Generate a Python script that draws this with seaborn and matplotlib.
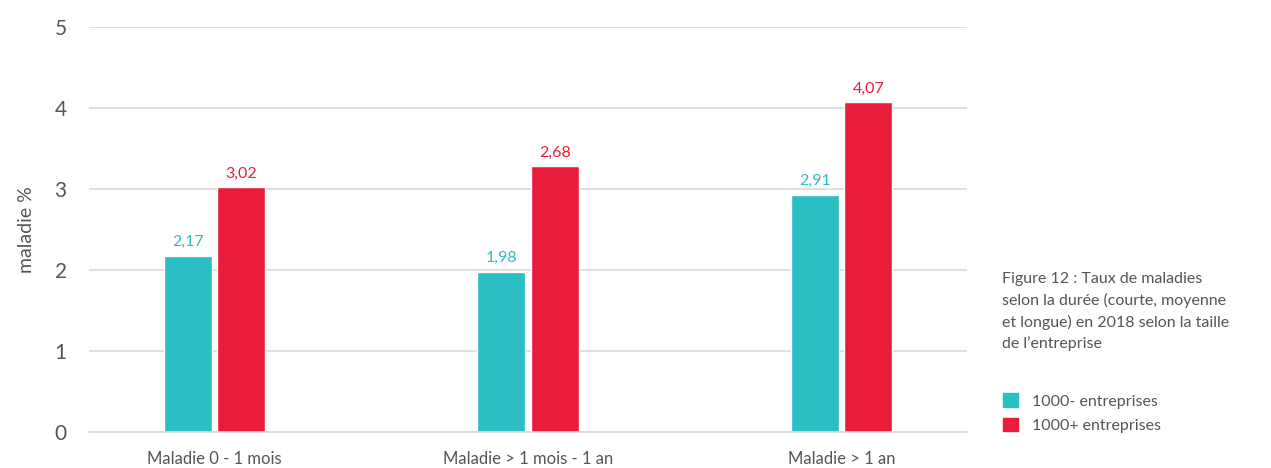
import numpy as np
import pandas as pd
import seaborn as sns
import matplotlib.pyplot as plt
from matplotlib.patches import Patch

#%% data
categories = ["Maladie 0 - 1 mois", "Maladie > 1 mois - 1 an", "Maladie > 1 an"]
groups = ["1000- entreprises", "1000+ entreprises"]
small_vals = [2.17, 1.98, 2.93]
big_vals = [3.02, 3.28, 4.07]
small_labels = ["2,17", "1,98", "2,91"]
big_labels = ["3,02", "2,68", "4,07"]

df = pd.DataFrame({
    "cat": categories * 2,
    "group": [groups[0]] * 3 + [groups[1]] * 3,
    "val": small_vals + big_vals,
})

#%% plot
sns.set_style("white")
plt.rcParams["font.family"] = ["Lato", "DejaVu Sans"]
teal = "#2abfc3"
red = "#e91c39"
grey = "#555555"

fig = plt.figure(figsize=(12.71, 4.68), dpi=100)
ax = fig.add_axes([0.070, 0.077, 0.691, 0.865])
sns.barplot(data=df, x="cat", y="val", hue="group", palette=[teal, red],
            width=0.34, gap=0.1, ax=ax, legend=False, saturation=1)

for cont, labs, col in zip(ax.containers, [small_labels, big_labels], [teal, red]):
    ax.bar_label(cont, labels=labs, padding=5, color=col, fontsize=11.5)

ax.set_ylim(0, 5)
ax.set_xlim(-0.4, 2.4)
ax.set_yticks(range(6))
ax.yaxis.grid(True, color="#d9d9d9", linewidth=1.2)
ax.set_axisbelow(True)
for s in ["top", "right", "left"]:
    ax.spines[s].set_visible(False)
ax.spines["bottom"].set_color("#d9d9d9")
ax.spines["bottom"].set_linewidth(1.2)
ax.tick_params(axis="y", length=0, pad=16, labelsize=15, labelcolor=grey)
ax.tick_params(axis="x", length=0, pad=14, labelsize=12, labelcolor=grey)
ax.set_xlabel("")
ax.set_ylabel("maladie %", fontsize=14, color=grey, labelpad=14)

fig.text(0.788, 0.25, "Figure 12 : Taux de maladies\nselon la durée (courte, moyenne\net longue) en 2018 selon la taille\nde l’entreprise",
         fontsize=11.5, color=grey, va="bottom", ha="left", linespacing=1.55)

handles = [Patch(color=teal), Patch(color=red)]
fig.legend(handles, groups, loc="upper left", bbox_to_anchor=(0.778, 0.19),
           frameon=False, fontsize=11.5, labelcolor=grey, handlelength=0.9,
           handleheight=0.9, handletextpad=0.9, labelspacing=0.6)

plt.savefig("out.png", dpi=100)
